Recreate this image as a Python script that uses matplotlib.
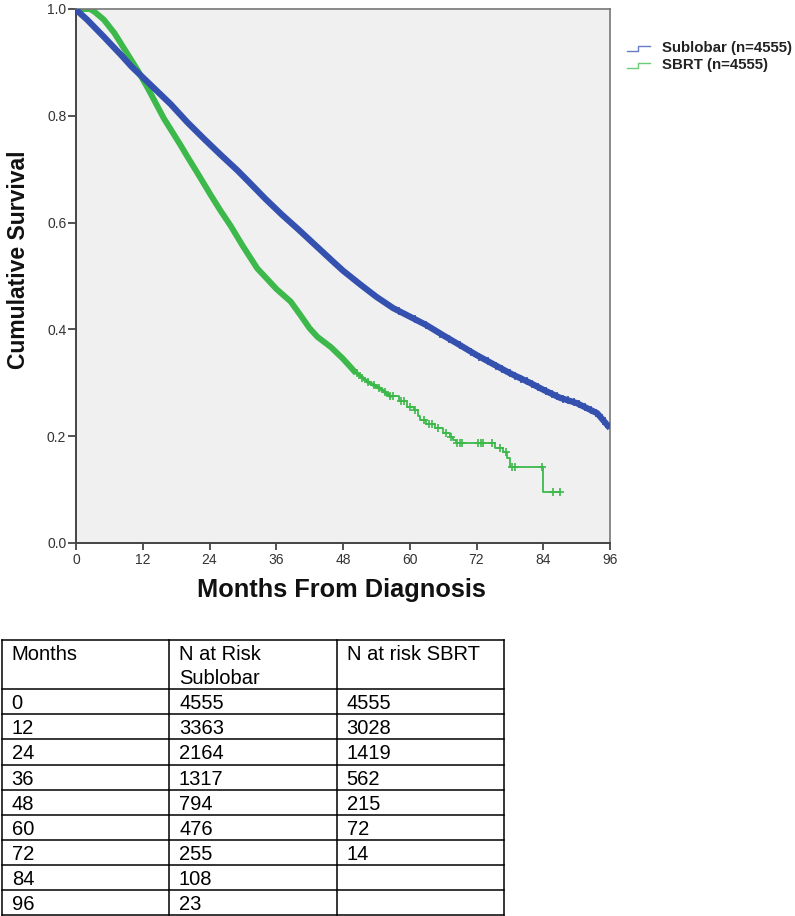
import numpy as np
import matplotlib
matplotlib.use("Agg")
import matplotlib.pyplot as plt
from matplotlib.lines import Line2D

plt.rcParams['font.family'] = ['Liberation Sans', 'DejaVu Sans']

# ---------------- data ----------------
# Sublobar curve (months, cumulative survival)
sub_t = [0, 0.3, 2, 5, 8, 10, 12, 14, 17, 20, 23, 26, 29, 31, 34, 37, 40, 43,
         46, 48, 51, 54, 57, 60, 63, 66, 69.6, 72, 75, 78, 81.6, 84, 87, 90, 93.7, 96]
sub_s = [1.0, 0.996, 0.98, 0.948, 0.915, 0.892, 0.872, 0.852, 0.822, 0.788, 0.757,
         0.727, 0.698, 0.677, 0.645, 0.615, 0.587, 0.558, 0.529, 0.510, 0.485, 0.461,
         0.440, 0.424, 0.408, 0.389, 0.367, 0.352, 0.335, 0.318, 0.300, 0.287,
         0.272, 0.262, 0.243, 0.215]
sub_censor_t = [58, 61, 63, 65.5, 67, 69, 71, 72.5, 74, 75.5, 76.5, 78, 79, 80, 81, 82,
                83, 84.5, 85.5, 86.5, 87.5, 88.5, 89.5, 90.5, 91.5, 92.5, 93.5, 94.5, 95.3]

# SBRT curve: densely censored early part
sbrt_dense_t = [0, 2.5, 3.3, 5, 6.9, 9, 11.1, 13, 15.8, 18.8, 20, 22, 24.2, 26, 27.8,
                30, 32.6, 34.4, 36, 38.6, 40.4, 42, 43.4, 45.8, 48, 50, 52.4, 54.7, 56.5]
sbrt_dense_s = [1.0, 1.0, 0.995, 0.98, 0.955, 0.92, 0.885, 0.850, 0.795, 0.745, 0.724,
                0.690, 0.652, 0.622, 0.594, 0.556, 0.514, 0.494, 0.476, 0.452, 0.426,
                0.402, 0.386, 0.367, 0.345, 0.322, 0.302, 0.289, 0.275]
# SBRT curve: step tail
sbrt_step_t = [56.5, 58, 59.5, 60.7, 61.5, 61.9, 63, 64.5, 66, 67.3, 67.8, 68.3,
               75.4, 76.8, 77.5, 78.0, 84.0, 87.0]
sbrt_step_s = [0.275, 0.265, 0.255, 0.249, 0.238, 0.230, 0.222, 0.215, 0.206, 0.198,
               0.193, 0.187, 0.178, 0.170, 0.159, 0.142, 0.095, 0.095]
sbrt_censor_t = [50.5, 51.5, 52.5, 53.5, 54.5, 55.5, 56.5, 57, 58.5, 59, 60, 61, 62.5,
                 63.5, 64, 65, 66.5, 67.5, 68.5, 69.0, 69.4, 72.3, 72.8, 73.2, 74.8,
                 76.3, 77.3, 78.4, 79.0, 83.7, 85.8, 87.0]

x_ticks = [0, 12, 24, 36, 48, 60, 72, 84, 96]
y_ticks = [0.0, 0.2, 0.4, 0.6, 0.8, 1.0]
legend_labels = ["Sublobar (n=4555)", "SBRT (n=4555)"]

table_header = ["Months", "N at Risk\nSublobar", "N at risk SBRT"]
tbl_months = [0, 12, 24, 36, 48, 60, 72, 84, 96]
tbl_sub = [4555, 3363, 2164, 1317, 794, 476, 255, 108, 23]
tbl_sbrt = [4555, 3028, 1419, 562, 215, 72, 14, None, None]

BLUE = "#3451b0"
GREEN = "#3cb94a"

# ---------------- figure ----------------
W, H = 795, 916
fig = plt.figure(figsize=(W / 100, H / 100), dpi=100)


def fx(px):
    return px / W


def fy(py):
    return 1 - py / H


ax = fig.add_axes([fx(76), fy(543), (610 - 76) / W, (543 - 9) / H])
ax.set_facecolor('#f0f0f0')
ax.set_xlim(0, 96)
ax.set_ylim(0, 1)

# Sublobar
ax.plot(sub_t, sub_s, color=BLUE, lw=4.5, solid_joinstyle='round', solid_capstyle='butt', zorder=3)
sub_cy = np.interp(sub_censor_t, sub_t, sub_s)
ax.plot(sub_censor_t, sub_cy, ls='none', marker='+', ms=6, mew=1.2, color=BLUE, zorder=3)

# SBRT
dt = np.array(sbrt_dense_t)
ds = np.array(sbrt_dense_s)
k = int(np.searchsorted(dt, 50))
ax.plot(dt[:k + 1], ds[:k + 1], color=GREEN, lw=4.3, solid_joinstyle='round', zorder=2)
ax.plot(dt[k:], ds[k:], color=GREEN, lw=2.6, solid_joinstyle='round', zorder=2)
ax.step(sbrt_step_t, sbrt_step_s, where='post', color=GREEN, lw=1.3, zorder=2)
ct = np.array(sbrt_censor_t)
idx = np.clip(np.searchsorted(sbrt_step_t, ct, side='right') - 1, 0, None)
step_val = np.array(sbrt_step_s)[idx]
sbrt_cy = np.where(ct < sbrt_step_t[0], np.interp(ct, dt, ds), step_val)
ax.plot(ct, sbrt_cy, ls='none', marker='+', ms=6, mew=1.2, color=GREEN, zorder=2)

ax.set_xticks(x_ticks)
ax.set_xticklabels([str(v) for v in x_ticks])
ax.set_yticks(y_ticks)
ax.set_yticklabels([f"{v:.1f}" for v in y_ticks])
ax.tick_params(axis='y', direction='out', length=6, width=1.3, color='#444444',
               labelsize=10, labelcolor='#333333', pad=1)
ax.tick_params(axis='x', direction='out', length=5, width=1.3, color='#444444',
               labelsize=10, labelcolor='#333333', pad=2)
for side in ['left', 'bottom']:
    ax.spines[side].set_color('#444444')
    ax.spines[side].set_linewidth(1.4)
for side in ['top', 'right']:
    ax.spines[side].set_color('#777777')
    ax.spines[side].set_linewidth(1.2)

fig.text(fx(18.5), fy(260), "Cumulative Survival", rotation=90, ha='center', va='center',
         fontsize=16.5, fontweight='bold', color='#111111')
fig.text(fx(341), fy(590), "Months From Diagnosis", ha='center', va='center',
         fontsize=18.3, fontweight='bold', color='#111111')

# legend (outside the plot, top right)
for i, (lab, col) in enumerate(zip(legend_labels, [BLUE, GREEN])):
    yc = 48 + i * 17
    fig.add_artist(Line2D([fx(627), fx(638), fx(638), fx(650)],
                          [fy(yc + 2.5), fy(yc + 2.5), fy(yc - 2.5), fy(yc - 2.5)],
                          transform=fig.transFigure, color=col, lw=1.0, alpha=0.75))
    fig.text(fx(662), fy(yc), lab, ha='left', va='center', fontsize=10.8,
             fontweight='bold', color='#222222')

# ---------------- table ----------------
axt = fig.add_axes([0, 0, fx(510), (916 - 632) / H])
axt.set_xlim(0, 510)
axt.set_ylim(916, 632)
axt.axis('off')

col_x = [1.7, 169, 336.7, 504.3]
top, head_bot, bottom = 640, 689.3, 915
n_rows = len(tbl_months)
row_h = (bottom - head_bot) / n_rows
row_y = [top, head_bot] + [head_bot + row_h * (r + 1) for r in range(n_rows)]

lw_t = 1.1
for y in row_y:
    axt.plot([col_x[0], col_x[-1]], [y, y], color='black', lw=lw_t, solid_capstyle='projecting')
for x in col_x:
    axt.plot([x, x], [top, bottom], color='black', lw=lw_t, solid_capstyle='projecting')

fs = 14.5
for j, h in enumerate(table_header):
    for m, line in enumerate(h.split('\n')):
        axt.text(col_x[j] + 10, top + 20 + 24 * m, line, ha='left', va='baseline', fontsize=fs)

for r in range(n_rows):
    yb = head_bot + row_h * r + 20
    vals = [tbl_months[r], tbl_sub[r], tbl_sbrt[r]]
    for j, v in enumerate(vals):
        if v is None:
            continue
        axt.text(col_x[j] + 10, yb, str(v), ha='left', va='baseline', fontsize=fs)

fig.savefig("out.png", dpi=100)
